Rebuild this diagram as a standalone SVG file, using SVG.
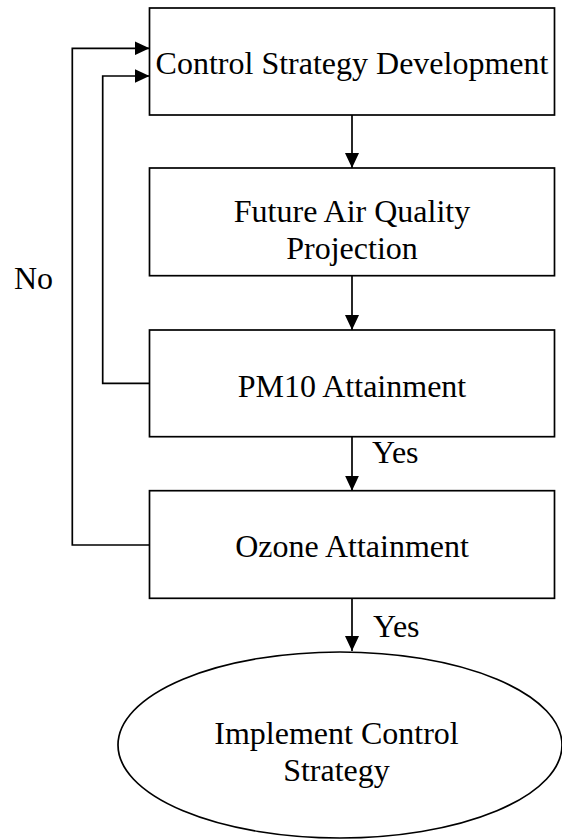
<svg xmlns="http://www.w3.org/2000/svg" width="562" height="839" viewBox="0 0 562 839">
<defs>
<marker id="arr" viewBox="0 0 15 14" refX="15" refY="7" markerWidth="15" markerHeight="14" markerUnits="userSpaceOnUse" orient="auto">
<path d="M0,0 L15,7 L0,14 Z" fill="#000"/>
</marker>
<style>
.box{fill:#fff;stroke:#000;stroke-width:1.7}
.t{font-family:"Liberation Serif","Times New Roman",serif;font-size:32px;fill:#000}
.c{text-anchor:middle}
.ln{fill:none;stroke:#000;stroke-width:1.7}
</style>
</defs>
<rect width="562" height="839" fill="#fff"/>
<g id="connectors">
<path class="ln" d="M352,115 V168" marker-end="url(#arr)"/>
<path class="ln" d="M352,275.7 V330" marker-end="url(#arr)"/>
<path class="ln" d="M352,436.7 V490.7" marker-end="url(#arr)"/>
<path class="ln" d="M352,598.3 V651" marker-end="url(#arr)"/>
<path class="ln" d="M149.5,383.3 H102.7 V76 H149.5" marker-end="url(#arr)"/>
<path class="ln" d="M149.5,545 H72.3 V48.3 H149.5" marker-end="url(#arr)"/>
<text class="t" x="14" y="289">No</text>
<text class="t" x="372" y="463">Yes</text>
<text class="t" x="373" y="637">Yes</text>
</g>
<g id="n1">
<rect class="box" x="149.5" y="8" width="405" height="107"/>
<text class="t c" x="352" y="74">Control Strategy Development</text>
</g>
<g id="n2">
<rect class="box" x="149.5" y="168" width="405" height="107.7"/>
<text class="t c" x="352" y="222">Future Air Quality</text>
<text class="t c" x="352" y="258.5">Projection</text>
</g>
<g id="n3">
<rect class="box" x="149.5" y="330" width="405" height="106.7"/>
<text class="t c" x="352" y="396.7">PM10 Attainment</text>
</g>
<g id="n4">
<rect class="box" x="149.5" y="490.7" width="405" height="107.6"/>
<text class="t c" x="352" y="556.7">Ozone Attainment</text>
</g>
<g id="n5">
<ellipse class="box" cx="340" cy="745" rx="222" ry="93"/>
<text class="t c" x="336.5" y="744">Implement Control</text>
<text class="t c" x="336.5" y="780.7">Strategy</text>
</g>
</svg>
